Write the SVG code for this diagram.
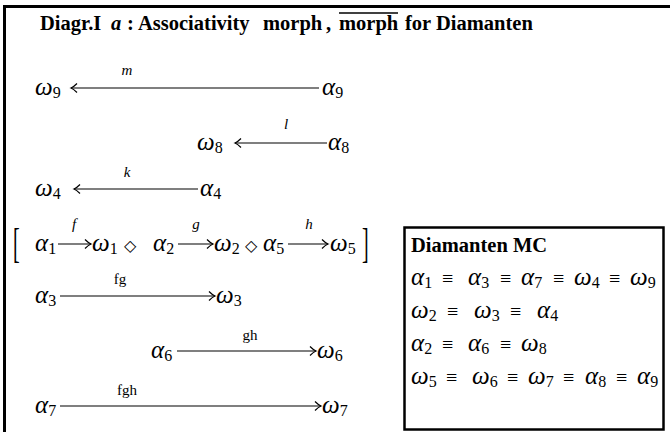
<svg xmlns="http://www.w3.org/2000/svg" width="670" height="432" viewBox="0 0 670 432">
<style>
text{font-family:"Liberation Serif","Times New Roman",serif;fill:#000}
.t{font-size:20.5px;font-weight:bold}
.ti{font-style:italic}
.m{font-size:25px;font-style:italic}
.s{font-size:16px;font-style:normal}
.r{font-size:20px}
.lb{font-size:15px;font-style:italic}
.lu{font-size:15px}
.d{font-family:"DejaVu Sans",sans-serif;font-size:16px}
.frame{fill:none;stroke:#000;stroke-width:3}
.box{fill:#fff;stroke:#000;stroke-width:2.5}
.ar{fill:none;stroke:#000;stroke-width:1.2;marker-end:url(#ah)}
</style>
<defs>
<marker id="ah" markerUnits="userSpaceOnUse" markerWidth="12" markerHeight="12" viewBox="-8 -6 10 12" refX="0" refY="0" orient="auto">
<path d="M-6,-4.5 Q-2.5,-1 0,0 Q-2.5,1 -6,4.5" fill="none" stroke="#000" stroke-width="1.2"/>
</marker>
</defs>
<rect width="670" height="432" fill="#fff"/>
<path class="frame" d="M4.5,432 V6.5 H670"/>
<g id="title">
<text class="t" x="40" y="30">Diagr.I</text>
<text class="t ti" x="111" y="30">a</text>
<text class="t" x="127" y="30">:</text>
<text class="t" x="138" y="30">Associativity</text>
<text class="t" x="263" y="30">morph</text>
<text class="t" x="326" y="30">,</text>
<text class="t" x="339" y="30">morph</text>
<line x1="339" y1="13" x2="398" y2="13" stroke="#000" stroke-width="1.3"/>
<text class="t" x="405" y="30">for</text>
<text class="t" x="436" y="30">Diamanten</text>
</g>
<g id="connectors">
<path class="ar" d="M319,88 H71"/>
<path class="ar" d="M327,143 H235"/>
<path class="ar" d="M198,189 H74"/>
<path class="ar" d="M58,244 H91"/>
<path class="ar" d="M178,244 H213"/>
<path class="ar" d="M288,244 H328"/>
<path class="ar" d="M60,296 H215"/>
<path class="ar" d="M177,351 H316"/>
<path class="ar" d="M60,406 H321"/>
<text class="lb" x="127" y="75" text-anchor="middle">m</text>
<text class="lb" x="286" y="129" text-anchor="middle">l</text>
<text class="lb" x="127" y="177" text-anchor="middle">k</text>
<text class="lb" x="74" y="229" text-anchor="middle">f</text>
<text class="lb" x="196" y="229" text-anchor="middle">g</text>
<text class="lb" x="309" y="229" text-anchor="middle">h</text>
<text class="lu" x="120" y="284" text-anchor="middle">fg</text>
<text class="lu" x="250" y="340" text-anchor="middle">gh</text>
<text class="lu" x="127" y="395" text-anchor="middle">fgh</text>
</g>
<g id="w9"><text class="m" x="35" y="95">ω<tspan class="s" dy="3">9</tspan></text></g>
<g id="a9"><text class="m" x="322" y="95">α<tspan class="s" dy="3">9</tspan></text></g>
<g id="w8"><text class="m" x="197" y="150">ω<tspan class="s" dy="3">8</tspan></text></g>
<g id="a8"><text class="m" x="328" y="150">α<tspan class="s" dy="3">8</tspan></text></g>
<g id="w4"><text class="m" x="35" y="196">ω<tspan class="s" dy="3">4</tspan></text></g>
<g id="a4"><text class="m" x="200" y="196">α<tspan class="s" dy="3">4</tspan></text></g>
<g id="chain">
<text class="r" transform="translate(13,257) scale(1,2.1)">[</text>
<text class="m" x="35" y="251">α<tspan class="s" dy="3">1</tspan></text>
<text class="m" x="92" y="251">ω<tspan class="s" dy="3">1</tspan></text>
<text class="d" x="124" y="251">◇</text>
<text class="m" x="153" y="251">α<tspan class="s" dy="3">2</tspan></text>
<text class="m" x="214" y="251">ω<tspan class="s" dy="3">2</tspan></text>
<text class="d" x="245" y="251">◇</text>
<text class="m" x="263" y="251">α<tspan class="s" dy="3">5</tspan></text>
<text class="m" x="330" y="251">ω<tspan class="s" dy="3">5</tspan></text>
<text class="r" transform="translate(362,257) scale(1,2.1)">]</text>
</g>
<g id="a3"><text class="m" x="35" y="303">α<tspan class="s" dy="3">3</tspan></text></g>
<g id="w3"><text class="m" x="216" y="303">ω<tspan class="s" dy="3">3</tspan></text></g>
<g id="a6"><text class="m" x="151" y="358">α<tspan class="s" dy="3">6</tspan></text></g>
<g id="w6"><text class="m" x="317" y="358">ω<tspan class="s" dy="3">6</tspan></text></g>
<g id="a7"><text class="m" x="35" y="413">α<tspan class="s" dy="3">7</tspan></text></g>
<g id="w7"><text class="m" x="322" y="413">ω<tspan class="s" dy="3">7</tspan></text></g>
<g id="mc">
<rect class="box" x="404.5" y="227.5" width="259" height="202"/>
<text class="t" x="411" y="252">Diamanten MC</text>
<text class="m" x="411" y="285">α<tspan class="s" dy="3">1</tspan></text>
<text class="r" x="442" y="285">≡</text>
<text class="m" x="468" y="285">α<tspan class="s" dy="3">3</tspan></text>
<text class="r" x="500" y="285">≡</text>
<text class="m" x="521" y="285">α<tspan class="s" dy="3">7</tspan></text>
<text class="r" x="553" y="285">≡</text>
<text class="m" x="574" y="285">ω<tspan class="s" dy="3">4</tspan></text>
<text class="r" x="609" y="285">≡</text>
<text class="m" x="630" y="285">ω<tspan class="s" dy="3">9</tspan></text>
<text class="m" x="411" y="318">ω<tspan class="s" dy="3">2</tspan></text>
<text class="r" x="447" y="318">≡</text>
<text class="m" x="474" y="318">ω<tspan class="s" dy="3">3</tspan></text>
<text class="r" x="510" y="318">≡</text>
<text class="m" x="537" y="318">α<tspan class="s" dy="3">4</tspan></text>
<text class="m" x="411" y="351">α<tspan class="s" dy="3">2</tspan></text>
<text class="r" x="442" y="351">≡</text>
<text class="m" x="468" y="351">α<tspan class="s" dy="3">6</tspan></text>
<text class="r" x="500" y="351">≡</text>
<text class="m" x="521" y="351">ω<tspan class="s" dy="3">8</tspan></text>
<text class="m" x="411" y="384">ω<tspan class="s" dy="3">5</tspan></text>
<text class="r" x="446" y="384">≡</text>
<text class="m" x="472" y="384">ω<tspan class="s" dy="3">6</tspan></text>
<text class="r" x="507" y="384">≡</text>
<text class="m" x="528" y="384">ω<tspan class="s" dy="3">7</tspan></text>
<text class="r" x="563" y="384">≡</text>
<text class="m" x="585" y="384">α<tspan class="s" dy="3">8</tspan></text>
<text class="r" x="616" y="384">≡</text>
<text class="m" x="637" y="384">α<tspan class="s" dy="3">9</tspan></text>
</g>
</svg>
